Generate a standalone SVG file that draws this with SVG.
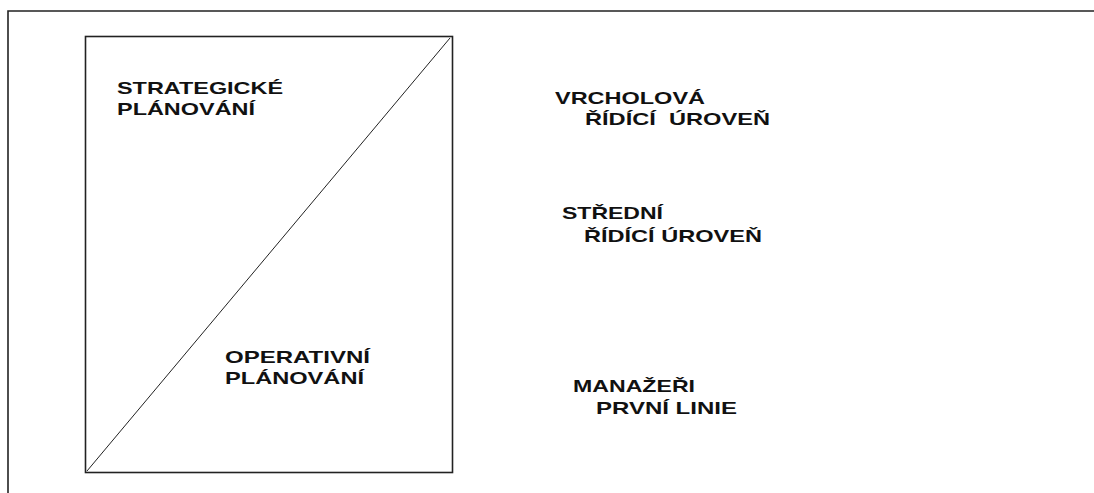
<svg xmlns="http://www.w3.org/2000/svg" width="1094" height="493" viewBox="0 0 1094 493">
<style>
.t{font-family:"Liberation Sans",Arial,sans-serif;font-weight:bold;font-size:17px;fill:#111}
.ln{stroke:#222;fill:none}
</style>
<rect width="1094" height="493" fill="#fff"/>
<g id="frame">
<path class="ln" d="M8,493 V11 H1094" stroke-width="1.6"/>
</g>
<g id="box">
<rect class="ln" x="85.5" y="36.5" width="367" height="436" stroke-width="1.6"/>
</g>
<g id="connectors">
<line class="ln" x1="87" y1="471" x2="450" y2="38" stroke-width="1"/>
</g>
<g id="strategic">
<text class="t" x="117" y="94" textLength="166" lengthAdjust="spacingAndGlyphs">STRATEGICKÉ</text>
<text class="t" x="117" y="115" textLength="138" lengthAdjust="spacingAndGlyphs">PLÁNOVÁNÍ</text>
</g>
<g id="operative">
<text class="t" x="225" y="363" textLength="145" lengthAdjust="spacingAndGlyphs">OPERATIVNÍ</text>
<text class="t" x="225" y="384" textLength="139" lengthAdjust="spacingAndGlyphs">PLÁNOVÁNÍ</text>
</g>
<g id="top-level">
<text class="t" x="555" y="104" textLength="150" lengthAdjust="spacingAndGlyphs">VRCHOLOVÁ</text>
<text class="t" x="585" y="125" textLength="185" lengthAdjust="spacingAndGlyphs" xml:space="preserve">ŘÍDÍCÍ  ÚROVEŇ</text>
</g>
<g id="middle-level">
<text class="t" x="562" y="219" textLength="101" lengthAdjust="spacingAndGlyphs">STŘEDNÍ</text>
<text class="t" x="584" y="242" textLength="178" lengthAdjust="spacingAndGlyphs">ŘÍDÍCÍ ÚROVEŇ</text>
</g>
<g id="first-line">
<text class="t" x="573" y="392" textLength="122" lengthAdjust="spacingAndGlyphs">MANAŽEŘI</text>
<text class="t" x="596" y="414" textLength="141" lengthAdjust="spacingAndGlyphs">PRVNÍ LINIE</text>
</g>
</svg>
